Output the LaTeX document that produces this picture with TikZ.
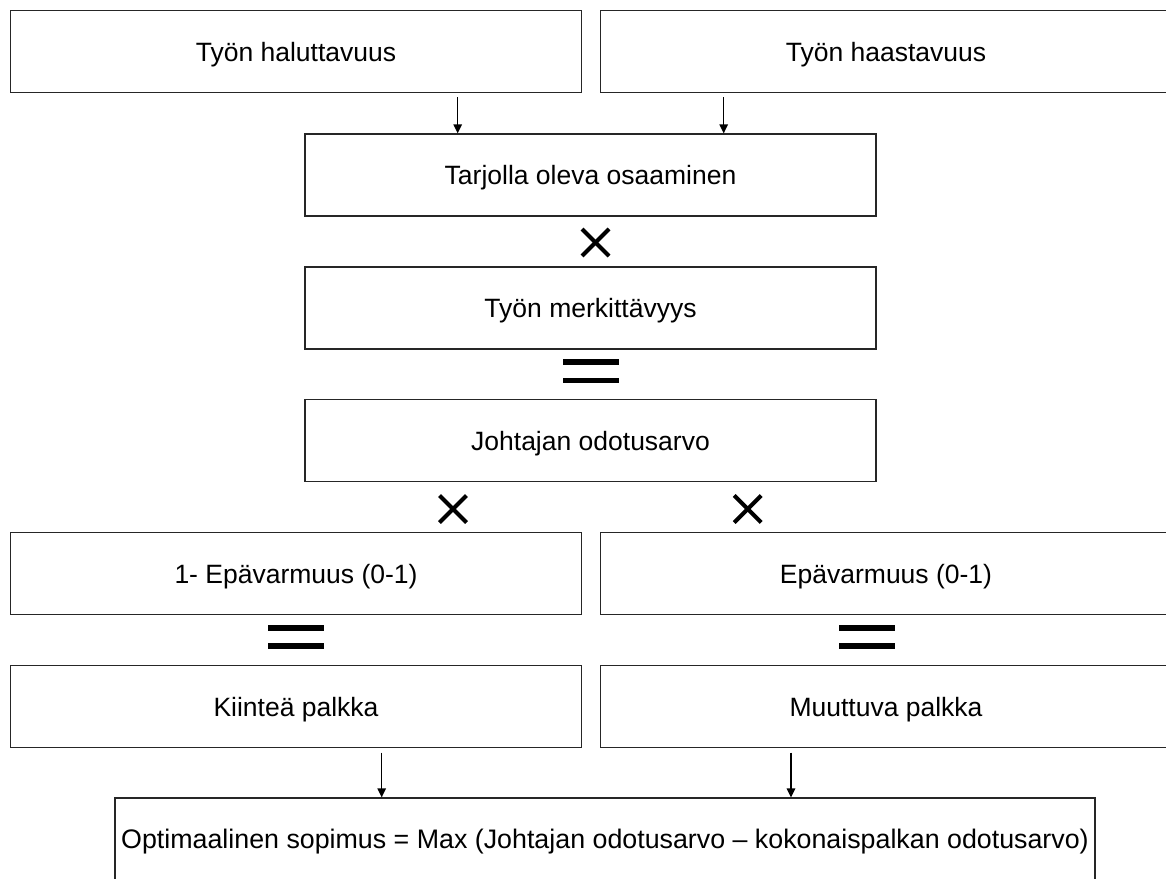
\documentclass[tikz,border=0pt]{standalone}
\usepackage{fontspec}
\setmainfont{Liberation Sans}
\usetikzlibrary{arrows.meta,calc}
\begin{document}
\begin{tikzpicture}[x=1pt,y=-1pt,
  box/.style={draw=black!85, line width=1.2pt, rectangle, minimum width=571pt,
    minimum height=82pt, inner sep=0pt, text height=19.5pt, text depth=0pt,
    font=\fontsize{26.5}{32}\selectfont},
  flow/.style={-{Triangle[length=9pt,width=8.5pt]}, line width=1.4pt},
  timesmark/.style={line width=4pt},
  eqmark/.style={line width=5.5pt}]
% page area; boxes on the right and bottom run past it
\clip (0,0) rectangle (1166,878);
\fill[white] (0,0) rectangle (1166,878);

% boxes
\node[box] (tl)  at (296,51.4)   {Työn haluttavuus};
\node[box] (tr)  at (886,51.4)   {Työn haastavuus};
\node[box] (tar) at (590.5,175)  {Tarjolla oleva osaaminen};
\node[box] (mer) at (590.5,308)  {Työn merkittävyys};
\node[box] (joh) at (590.5,440.8) {Johtajan odotusarvo};
\node[box] (ep1) at (296,573.8)  {1- Epävarmuus (0-1)};
\node[box] (ep2) at (886,573.8)  {Epävarmuus (0-1)};
\node[box] (kii) at (296,706.6)  {Kiinteä palkka};
\node[box] (muu) at (886,706.6)  {Muuttuva palkka};
\node[box, minimum width=980pt, font=\fontsize{26.8}{32}\selectfont] (opt) at (605,839)
  {Optimaalinen sopimus = Max (Johtajan odotusarvo – kokonaispalkan odotusarvo)};

% arrow columns
\coordinate (a1) at (457.7,0);
\coordinate (a2) at (723.7,0);
\coordinate (a3) at (381.7,0);
\coordinate (a4) at (791,0);
\draw[flow] ($(a1 |- tl.south)+(0,4)$) -- (a1 |- tar.north);
\draw[flow] ($(a2 |- tr.south)+(0,4)$) -- (a2 |- tar.north);
\draw[flow] ($(a3 |- kii.south)+(0,4.5)$) -- (a3 |- opt.north);
\draw[flow] ($(a4 |- muu.south)+(0,4.5)$) -- (a4 |- opt.north);

% multiplication signs
\coordinate (x1) at (595.5,242.5);
\coordinate (x2) at (453,509);
\coordinate (x3) at (747.7,509);
\foreach \c in {x1,x2,x3}{
  \draw[timesmark] ($(\c)+(-13.5,-13.5)$) -- ($(\c)+(13.5,13.5)$);
  \draw[timesmark] ($(\c)+(-13.5,13.5)$) -- ($(\c)+(13.5,-13.5)$);
}

% equals signs
\coordinate (q1) at (591,371.2);
\coordinate (q2) at (296,637);
\coordinate (q3) at (867,637);
\foreach \c in {q1,q2,q3}{
  \draw[eqmark] ($(\c)+(-28,-9.2)$) -- ($(\c)+(28,-9.2)$);
  \draw[eqmark] ($(\c)+(-28,9.2)$) -- ($(\c)+(28,9.2)$);
}
\end{tikzpicture}
\end{document}
